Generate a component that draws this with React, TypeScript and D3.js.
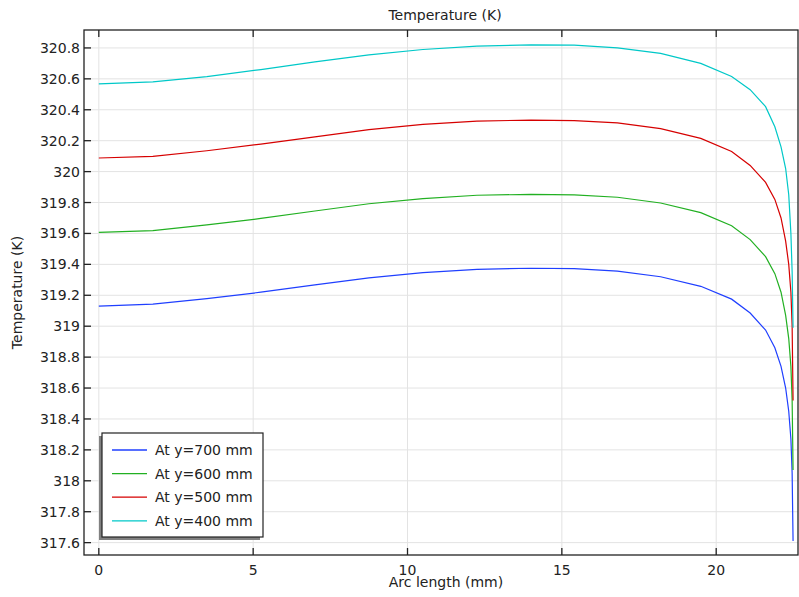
import React from "react";
import * as d3 from "d3";

const arcLength = [0, 1.75, 3.5, 5.25, 7, 8.75, 10.5, 12.25, 14, 15.4, 16.8, 18.2, 19.5, 20.5, 21.1, 21.6, 21.9, 22.1, 22.25, 22.35, 22.42, 22.46, 22.49];

const tempY700 = [319.13, 319.143, 319.178, 319.22, 319.267, 319.313, 319.347, 319.368, 319.375, 319.372, 319.356, 319.32, 319.258, 319.175, 319.085, 318.975, 318.86, 318.74, 318.6, 318.45, 318.27, 318.05, 317.61];
const tempY600 = [319.607, 319.618, 319.655, 319.697, 319.745, 319.792, 319.825, 319.847, 319.853, 319.85, 319.834, 319.797, 319.735, 319.65, 319.56, 319.45, 319.34, 319.22, 319.07, 318.92, 318.74, 318.52, 318.07];
const tempY500 = [320.088, 320.098, 320.135, 320.178, 320.225, 320.272, 320.305, 320.327, 320.333, 320.33, 320.315, 320.278, 320.215, 320.13, 320.04, 319.93, 319.82, 319.7, 319.55, 319.4, 319.22, 319.0, 318.52];
const tempY400 = [320.568, 320.58, 320.615, 320.66, 320.71, 320.755, 320.79, 320.812, 320.82, 320.818, 320.8, 320.765, 320.7, 320.615, 320.53, 320.42, 320.29, 320.16, 320.02, 319.85, 319.6, 319.35, 318.99];

const seriesNames = ["At y=700 mm", "At y=600 mm", "At y=500 mm", "At y=400 mm"];
const seriesColors = ["#1f3fff", "#22b022", "#d60000", "#00c8c8"];
const seriesValues = [tempY700, tempY600, tempY500, tempY400];

const xTicks = [0, 5, 10, 15, 20];
const yTicks = [317.6, 317.8, 318, 318.2, 318.4, 318.6, 318.8, 319, 319.2, 319.4, 319.6, 319.8, 320, 320.2, 320.4, 320.6, 320.8];

const W = 799;
const H = 597;
const left = 84;
const right = 798;
const top = 30;
const bottom = 555;

export default function App() {
  const x = d3.scaleLinear().domain([-0.48, 22.65]).range([left, right]);
  const y = d3.scaleLinear().domain([317.52, 320.916]).range([bottom, top]);
  const line = d3
    .line<number>()
    .x((_, i) => x(arcLength[i]))
    .y((d) => y(d));
  const font = "DejaVu Sans, sans-serif";
  const fmt = (v: number) => String(+v.toFixed(1));

  const legX = 102;
  const legY = 433;
  const legW = 161;
  const legH = 104;

  return (
    <svg
      width={W}
      height={H}
      style={{ position: "absolute", left: 0, top: 0, background: "#fff" }}
      fontFamily={font}
    >
      <rect x={0} y={0} width={W} height={H} fill="#fff" />
      {xTicks.map((t) => (
        <line key={"gx" + t} x1={x(t)} x2={x(t)} y1={top} y2={bottom} stroke="#e3e3e3" strokeWidth={1} />
      ))}
      {yTicks.map((t) => (
        <line key={"gy" + t} x1={left} x2={right} y1={y(t)} y2={y(t)} stroke="#e3e3e3" strokeWidth={1} />
      ))}
      <defs>
        <clipPath id="clip">
          <rect x={left} y={top} width={right - left} height={bottom - top} />
        </clipPath>
      </defs>
      <g clipPath="url(#clip)">
        {seriesValues.map((vals, i) => (
          <path key={i} d={line(vals) || ""} fill="none" stroke={seriesColors[i]} strokeWidth={1.2} />
        ))}
      </g>
      <rect x={left} y={top} width={right - left} height={bottom - top} fill="none" stroke="#222" strokeWidth={1.3} />
      {xTicks.map((t) => (
        <g key={"tx" + t}>
          <line x1={x(t)} x2={x(t)} y1={bottom} y2={bottom - 7} stroke="#222" strokeWidth={1.3} />
          <line x1={x(t)} x2={x(t)} y1={top} y2={top + 7} stroke="#222" strokeWidth={1.3} />
          <text x={x(t)} y={bottom + 20} textAnchor="middle" fontSize={14} fill="#222">
            {t}
          </text>
        </g>
      ))}
      {yTicks.map((t) => (
        <g key={"ty" + t}>
          <line x1={left} x2={left + 7} y1={y(t)} y2={y(t)} stroke="#222" strokeWidth={1.3} />
          <text x={left - 4} y={y(t) + 5} textAnchor="end" fontSize={14} fill="#222">
            {fmt(t)}
          </text>
        </g>
      ))}
      <text x={445} y={20} textAnchor="middle" fontSize={14} fill="#222">
        Temperature (K)
      </text>
      <text x={446} y={587} textAnchor="middle" fontSize={14} fill="#222">
        Arc length (mm)
      </text>
      <text
        transform={`translate(22, ${(top + bottom) / 2}) rotate(-90)`}
        textAnchor="middle"
        fontSize={14}
        fill="#222"
      >
        Temperature (K)
      </text>
      <rect x={legX - 3} y={legY + 3} width={legW} height={legH} fill="#808080" />
      <rect x={legX} y={legY} width={legW} height={legH} fill="#fff" stroke="#222" strokeWidth={1.2} />
      {seriesNames.map((n, i) => (
        <g key={n}>
          <line x1={legX + 10} x2={legX + 45} y1={legY + 17 + i * 23.6} y2={legY + 17 + i * 23.6} stroke={seriesColors[i]} strokeWidth={1.3} />
          <text x={legX + 53} y={legY + 22 + i * 23.6} fontSize={14} fill="#222">
            {n}
          </text>
        </g>
      ))}
    </svg>
  );
}
